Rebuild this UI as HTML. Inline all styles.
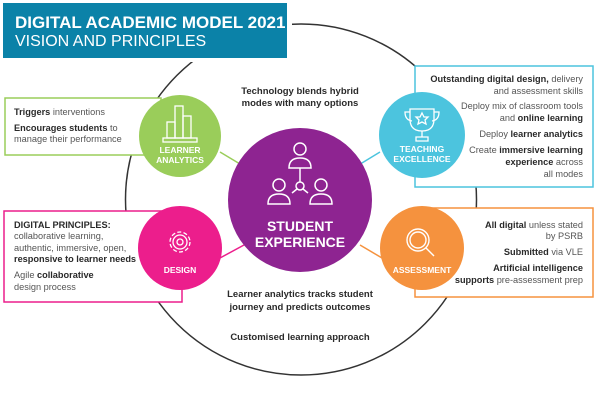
<!DOCTYPE html>
<html><head><meta charset="utf-8"><style>
html,body{margin:0;padding:0;background:#fff;}
svg{display:block;font-family:"Liberation Sans",sans-serif;}
.t{font-size:9.2px;fill:#555;}
.b{font-weight:bold;fill:#2a2a2a;}
.c{font-size:9.5px;font-weight:bold;fill:#2a2a2a;text-anchor:middle;}
.w{fill:#fff;font-weight:bold;text-anchor:middle;}
</style></head><body>
<svg width="600" height="400" viewBox="0 0 600 400">
<circle cx="301" cy="199.5" r="175.5" fill="none" stroke="#333" stroke-width="1.5"/>
<rect x="0" y="0" width="292" height="62" fill="#fff"/>
<rect x="3" y="3" width="284" height="55" fill="#0b82a8"/>
<text x="15" y="28" fill="#fff" font-size="17" font-weight="bold">DIGITAL ACADEMIC MODEL 2021</text>
<text x="15" y="46" fill="#fff" font-size="16">VISION AND PRINCIPLES</text>
<rect x="5" y="98" width="156" height="57" fill="#fff" stroke="#9acd5a" stroke-width="1.5"/>
<rect x="415" y="66" width="178" height="121" fill="#fff" stroke="#4cc4de" stroke-width="1.5"/>
<rect x="4" y="211" width="178" height="91" fill="#fff" stroke="#ec1e8c" stroke-width="1.5"/>
<rect x="415" y="208" width="178" height="89" fill="#fff" stroke="#f5923e" stroke-width="1.5"/>
<line x1="220" y1="152" x2="245" y2="167" stroke="#9acd5a" stroke-width="1.5"/>
<line x1="380" y1="152" x2="357" y2="166" stroke="#4cc4de" stroke-width="1.5"/>
<line x1="220" y1="258" x2="244" y2="245" stroke="#ec1e8c" stroke-width="1.5"/>
<line x1="382" y1="258" x2="360" y2="245" stroke="#f5923e" stroke-width="1.5"/>
<circle cx="300" cy="200" r="72" fill="#8e2491"/>
<g fill="none" stroke="#fff" stroke-width="1.5">
<circle cx="300" cy="149" r="6"/><path d="M289 168 q0-10 11-10 q11 0 11 10 z"/>
<circle cx="279" cy="185" r="6"/><path d="M268 204 q0-10 11-10 q11 0 11 10 z"/>
<circle cx="321" cy="185" r="6"/><path d="M310 204 q0-10 11-10 q11 0 11 10 z"/>
<circle cx="300" cy="186" r="4"/><line x1="300" y1="168" x2="300" y2="182"/><line x1="297" y1="189" x2="292" y2="193"/><line x1="303" y1="189" x2="308" y2="193"/>
</g>
<text x="300" y="231" class="w" font-size="14">STUDENT</text>
<text x="300" y="247" class="w" font-size="14">EXPERIENCE</text>
<circle cx="180" cy="136" r="41" fill="#9acd5a"/>
<g fill="none" stroke="#fff" stroke-width="1.3"><rect x="167" y="122" width="8" height="16"/><rect x="175" y="106" width="8" height="32"/><rect x="183" y="116" width="8" height="22"/><rect x="163" y="138" width="34" height="4"/></g>
<text x="180" y="153" class="w" font-size="8.5">LEARNER</text><text x="180" y="163" class="w" font-size="8.5">ANALYTICS</text>
<circle cx="422" cy="135" r="43" fill="#4cc4de"/>
<g fill="none" stroke="#fff" stroke-width="1.3"><path d="M410 109 h24 v10 q0 12-12 12 q-12 0-12-12 z"/><path d="M410 112 h-5 q0 8 7 9 M434 112 h5 q0 8-7 9"/><path d="M422 131 v6 M416 137 h12 v4 h-12 z"/><path d="M422 113 l2 4 4 0 -3 3 1 4 -4-2 -4 2 1-4 -3-3 4 0z"/></g>
<text x="422" y="152" class="w" font-size="8.5">TEACHING</text><text x="422" y="162" class="w" font-size="8.5">EXCELLENCE</text>
<circle cx="180" cy="248" r="42" fill="#ec1e8c"/>
<g fill="none" stroke="#fff" stroke-width="1.3"><circle cx="180" cy="242" r="10" stroke-dasharray="4 2.3"/><circle cx="180" cy="242" r="7"/><circle cx="180" cy="242" r="3"/></g>
<text x="180" y="273" class="w" font-size="8.5">DESIGN</text>
<circle cx="422" cy="248" r="42" fill="#f5923e"/>
<g fill="none" stroke="#fff" stroke-width="1.4"><circle cx="418" cy="240" r="11"/><circle cx="418" cy="240" r="8"/><path d="M426 248 l8 8"/></g>
<text x="422" y="273" class="w" font-size="8.5">ASSESSMENT</text>
<text x="300" y="94" class="c">Technology blends hybrid</text>
<text x="300" y="106" class="c">modes with many options</text>
<text x="300" y="297" class="c">Learner analytics tracks student</text>
<text x="300" y="310" class="c">journey and predicts outcomes</text>
<text x="300" y="340" class="c">Customised learning approach</text>
<text x="14" y="115" class="t"><tspan class="b">Triggers</tspan> interventions</text>
<text x="14" y="131" class="t"><tspan class="b">Encourages students</tspan> to</text>
<text x="14" y="142" class="t">manage their performance</text>
<g class="t" text-anchor="end">
<text x="583" y="82"><tspan class="b">Outstanding digital design,</tspan> delivery</text>
<text x="583" y="94">and assessment skills</text>
<text x="583" y="109">Deploy mix of classroom tools</text>
<text x="583" y="121">and <tspan class="b">online learning</tspan></text>
<text x="583" y="137">Deploy <tspan class="b">learner analytics</tspan></text>
<text x="583" y="153">Create <tspan class="b">immersive learning</tspan></text>
<text x="583" y="165"><tspan class="b">experience</tspan> across</text>
<text x="583" y="177">all modes</text>
</g>
<text x="14" y="228" class="t b">DIGITAL PRINCIPLES:</text>
<text x="14" y="239" class="t">collaborative learning,</text>
<text x="14" y="251" class="t">authentic, immersive, open,</text>
<text x="14" y="262" class="t b">responsive to learner needs</text>
<text x="14" y="278" class="t">Agile <tspan class="b">collaborative</tspan></text>
<text x="14" y="290" class="t">design process</text>
<g class="t" text-anchor="end">
<text x="583" y="228"><tspan class="b">All digital</tspan> unless stated</text>
<text x="583" y="239">by PSRB</text>
<text x="583" y="255"><tspan class="b">Submitted</tspan> via VLE</text>
<text x="583" y="271"><tspan class="b">Artificial intelligence</tspan></text>
<text x="583" y="283"><tspan class="b">supports</tspan> pre-assessment prep</text>
</g>
</svg>
</body></html>
